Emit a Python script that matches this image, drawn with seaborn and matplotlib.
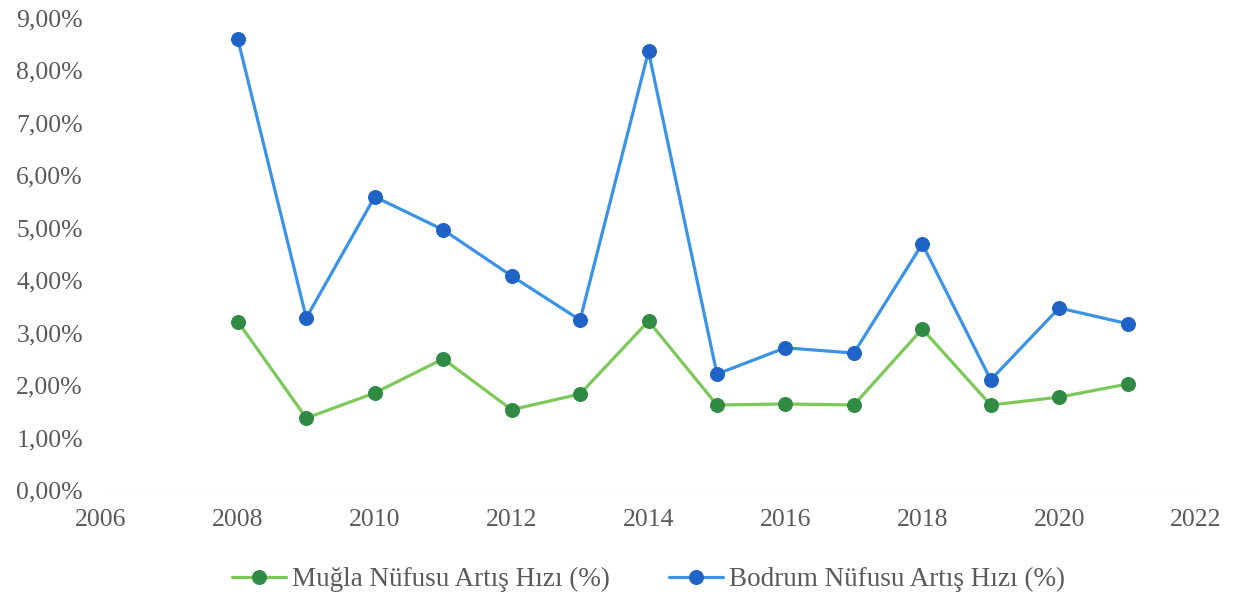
import numpy as np
import pandas as pd
import matplotlib
matplotlib.use("Agg")
import matplotlib.pyplot as plt
from matplotlib.ticker import FuncFormatter, MultipleLocator
import seaborn as sns

# Data (growth rates, %)
years = [2008, 2009, 2010, 2011, 2012, 2013, 2014,
         2015, 2016, 2017, 2018, 2019, 2020, 2021]
mugla = [3.21, 1.37, 1.85, 2.50, 1.53, 1.83, 3.22,
         1.62, 1.64, 1.62, 3.07, 1.62, 1.77, 2.02]
bodrum = [8.59, 3.28, 5.59, 4.96, 4.08, 3.24, 8.36,
          2.21, 2.71, 2.61, 4.69, 2.10, 3.47, 3.17]
series_names = ["Muğla Nüfusu Artış Hızı (%)", "Bodrum Nüfusu Artış Hızı (%)"]

df = pd.DataFrame({
    "Yıl": years * 2,
    "Oran": [v / 100 for v in mugla + bodrum],
    "Seri": [series_names[0]] * len(years) + [series_names[1]] * len(years),
})

sns.set_theme(style="white")
plt.rcParams["font.family"] = ["Liberation Serif", "DejaVu Serif"]

fig = plt.figure(figsize=(12.42, 5.95), dpi=100)
ax = fig.add_axes([0.0813, 0.1765, 0.8817, 0.7935])

styles = {
    series_names[0]: dict(color="#7cc95a", mfc="#2f8a44", mec="#2f8a44"),
    series_names[1]: dict(color="#3a93e6", mfc="#1f63c6", mec="#1f63c6"),
}
for name in series_names:
    st = styles[name]
    sns.lineplot(data=df[df["Seri"] == name], x="Yıl", y="Oran", ax=ax,
                 color=st["color"], linewidth=2.3, marker="o", markersize=10,
                 markerfacecolor=st["mfc"], markeredgecolor=st["mec"],
                 label=name)

ax.set_xlim(2006, 2022)
ax.set_ylim(0, 0.09)
ax.xaxis.set_major_locator(MultipleLocator(2))
ax.yaxis.set_major_locator(MultipleLocator(0.01))
ax.yaxis.set_major_formatter(FuncFormatter(lambda v, p: f"{v * 100:.2f}%".replace(".", ",")))
ax.set_xlabel("")
ax.set_ylabel("")
for s in ax.spines.values():
    s.set_visible(False)
ax.axhline(0, color="#eeeeee", linewidth=1, zorder=0)
ax.tick_params(axis="both", length=0, labelsize=18.5, labelcolor="#5a5a5a")
ax.tick_params(axis="y", pad=13)
ax.tick_params(axis="x", pad=14)

leg = ax.legend(loc="upper center", bbox_to_anchor=(0.5, -0.112), ncol=2,
                frameon=False, fontsize=19.5, handlelength=2.0,
                columnspacing=2.2, handletextpad=0.2)
for t in leg.get_texts():
    t.set_color("#5a5a5a")

fig.savefig("out.png", dpi=100)
